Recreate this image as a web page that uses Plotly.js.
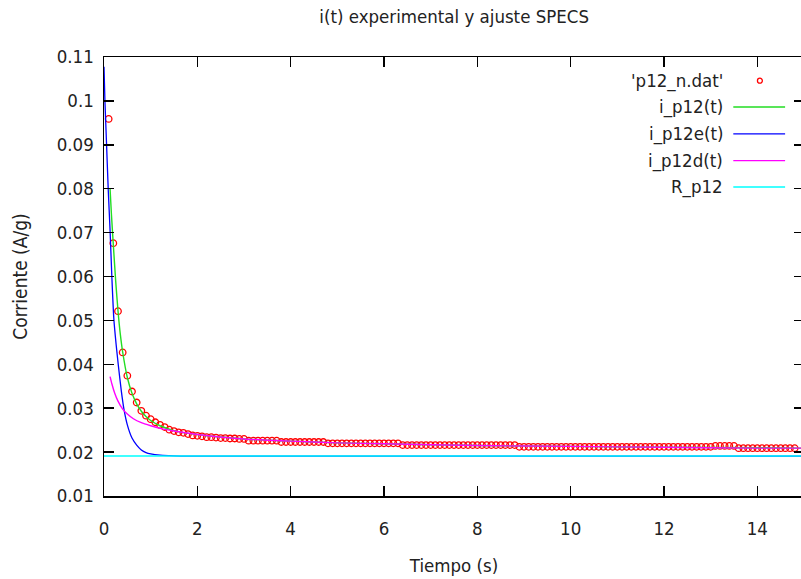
<!DOCTYPE html>
<html>
<head>
<meta charset="utf-8">
<script src="https://cdn.plot.ly/plotly-3.0.1.min.js"></script>
<style>
html, body { margin: 0; padding: 0; overflow: hidden; background: #fff; }
#chart { width: 806px; height: 579px; }
</style>
</head>
<body>
<div id="chart"></div>
<script>
// ---- Experimental data 'p12_n.dat' ----
const tData = [
  0.1, 0.2, 0.3, 0.4, 0.5, 0.6, 0.7, 0.8, 0.9, 1.0,
  1.1, 1.2, 1.3, 1.4, 1.5, 1.6, 1.7, 1.8, 1.9, 2.0,
  2.1, 2.2, 2.3, 2.4, 2.5, 2.6, 2.7, 2.8, 2.9, 3.0,
  3.1, 3.2, 3.3, 3.4, 3.5, 3.6, 3.7, 3.8, 3.9, 4.0,
  4.1, 4.2, 4.3, 4.4, 4.5, 4.6, 4.7, 4.8, 4.9, 5.0,
  5.1, 5.2, 5.3, 5.4, 5.5, 5.6, 5.7, 5.8, 5.9, 6.0,
  6.1, 6.2, 6.3, 6.4, 6.5, 6.6, 6.7, 6.8, 6.9, 7.0,
  7.1, 7.2, 7.3, 7.4, 7.5, 7.6, 7.7, 7.8, 7.9, 8.0,
  8.1, 8.2, 8.3, 8.4, 8.5, 8.6, 8.7, 8.8, 8.9, 9.0,
  9.1, 9.2, 9.3, 9.4, 9.5, 9.6, 9.7, 9.8, 9.9, 10.0,
  10.1, 10.2, 10.3, 10.4, 10.5, 10.6, 10.7, 10.8, 10.9, 11.0,
  11.1, 11.2, 11.3, 11.4, 11.5, 11.6, 11.7, 11.8, 11.9, 12.0,
  12.1, 12.2, 12.3, 12.4, 12.5, 12.6, 12.7, 12.8, 12.9, 13.0,
  13.1, 13.2, 13.3, 13.4, 13.5, 13.6, 13.7, 13.8, 13.9, 14.0,
  14.1, 14.2, 14.3, 14.4, 14.5, 14.6, 14.7, 14.8
];
const iData = [
  0.0959, 0.0676, 0.0521, 0.0427, 0.0374, 0.0338, 0.0313, 0.0294, 0.0283, 0.0275,
  0.0268, 0.0262, 0.0257, 0.0251, 0.0248, 0.0245, 0.0244, 0.0241, 0.0238, 0.0237,
  0.0236, 0.0234, 0.0234, 0.0233, 0.0232, 0.0232, 0.0231, 0.0231, 0.0230, 0.0230,
  0.0226, 0.0226, 0.0226, 0.0226, 0.0226, 0.0226, 0.0226, 0.0223, 0.0223, 0.0223,
  0.0223, 0.0223, 0.0223, 0.0223, 0.0223, 0.0223, 0.0223, 0.0220, 0.0220, 0.0220,
  0.0220, 0.0220, 0.0220, 0.0220, 0.0220, 0.0220, 0.0220, 0.0220, 0.0220, 0.0220,
  0.0220, 0.0220, 0.0220, 0.0216, 0.0216, 0.0216, 0.0216, 0.0216, 0.0216, 0.0216,
  0.0216, 0.0216, 0.0216, 0.0216, 0.0216, 0.0216, 0.0216, 0.0216, 0.0216, 0.0216,
  0.0216, 0.0216, 0.0216, 0.0216, 0.0216, 0.0216, 0.0216, 0.0216, 0.0212, 0.0212,
  0.0212, 0.0212, 0.0212, 0.0212, 0.0212, 0.0212, 0.0212, 0.0212, 0.0212, 0.0212,
  0.0212, 0.0212, 0.0212, 0.0212, 0.0212, 0.0212, 0.0212, 0.0212, 0.0212, 0.0212,
  0.0212, 0.0212, 0.0212, 0.0212, 0.0212, 0.0212, 0.0212, 0.0212, 0.0212, 0.0212,
  0.0212, 0.0212, 0.0212, 0.0212, 0.0212, 0.0212, 0.0212, 0.0212, 0.0212, 0.0212,
  0.0214, 0.0214, 0.0214, 0.0214, 0.0214, 0.0209, 0.0209, 0.0209, 0.0209, 0.0209,
  0.0209, 0.0209, 0.0209, 0.0209, 0.0209, 0.0209, 0.0209, 0.0209
];

// ---- Fit curves ----
const tFit = [0.13, 0.16, 0.2, 0.25, 0.3, 0.35, 0.4, 0.5, 0.6, 0.7, 0.8, 0.9, 1.0, 1.2, 1.5, 2, 3, 4, 5, 6, 8, 10, 12, 14, 15];
const iFitTotal = [0.0800, 0.0740, 0.0672, 0.0590, 0.0522, 0.0468, 0.0428, 0.0370, 0.0334, 0.0310, 0.0293, 0.0281, 0.0272, 0.0260, 0.0249, 0.0240, 0.0230, 0.0225, 0.0221, 0.0219, 0.0215, 0.0213, 0.0211, 0.0210, 0.0209];

const tExp = [0, 0.02, 0.05, 0.09, 0.13, 0.17, 0.21, 0.26, 0.31, 0.37, 0.43, 0.5, 0.6, 0.7, 0.8, 0.9, 1.0, 1.2, 1.4, 1.7, 2.0, 15];
const iFitExp = [0.1078, 0.1000, 0.0915, 0.0800, 0.0705, 0.0595, 0.0505, 0.0445, 0.0395, 0.0340, 0.0296, 0.0262, 0.0232, 0.0216, 0.0205, 0.0199, 0.0196, 0.0193, 0.0192, 0.0191, 0.0191, 0.0191];

const tDif = [0.13, 0.17, 0.23, 0.3, 0.4, 0.5, 0.63, 0.8, 1.0, 1.2, 1.5, 2, 3, 4, 5, 6, 8, 10, 12, 14, 15];
const iFitDif = [0.0372, 0.0355, 0.0334, 0.0316, 0.0298, 0.0287, 0.0276, 0.0267, 0.0260, 0.0254, 0.0248, 0.0240, 0.0230, 0.0225, 0.0221, 0.0219, 0.0215, 0.0213, 0.0211, 0.0209, 0.0209];

const tR = [0, 15];
const iR = [0.0191, 0.0191];

// ---- Labels ----
const seriesNames = ["'p12_n.dat'", "i_p12(t)", "i_p12e(t)", "i_p12d(t)", "R_p12"];
const seriesColors = ["#ff0000", "#22dd22", "#0000ff", "#ff00ff", "#00ffff"];
const xTickVals = [0, 2, 4, 6, 8, 10, 12, 14];
const yTickVals = [0.01, 0.02, 0.03, 0.04, 0.05, 0.06, 0.07, 0.08, 0.09, 0.1, 0.11];
const yTickText = ["0.01", "0.02", "0.03", "0.04", "0.05", "0.06", "0.07", "0.08", "0.09", "0.1", "0.11"];

const FONT = "DejaVu Sans Condensed, DejaVu Sans";
const TXT = "#222";
const FS = 18.5;

const traces = [
  { x: tData, y: iData, mode: "markers", type: "scatter", name: seriesNames[0],
    marker: { symbol: "circle-open", size: 6.5, color: seriesColors[0], line: { width: 1.3, color: seriesColors[0] } } },
  { x: tFit, y: iFitTotal, mode: "lines", type: "scatter", name: seriesNames[1],
    line: { color: seriesColors[1], width: 1.4, shape: "spline", smoothing: 0.6 } },
  { x: tExp, y: iFitExp, mode: "lines", type: "scatter", name: seriesNames[2],
    line: { color: seriesColors[2], width: 1.3, shape: "spline", smoothing: 0.6 } },
  { x: tDif, y: iFitDif, mode: "lines", type: "scatter", name: seriesNames[3],
    line: { color: seriesColors[3], width: 1.4, shape: "spline", smoothing: 0.6 } },
  { x: tR, y: iR, mode: "lines", type: "scatter", name: seriesNames[4],
    line: { color: seriesColors[4], width: 1.4 } }
];

// legend (gnuplot style: text right-aligned, sample to the right)
const legRows = [0.946, 0.886, 0.825, 0.764, 0.704];
const annotations = seriesNames.map((n, k) => ({
  xref: "paper", yref: "paper", x: 0.887, y: legRows[k], xanchor: "right", yanchor: "middle",
  text: n, showarrow: false, font: { family: FONT, size: FS, color: TXT }
}));
const shapes = [];
shapes.push({ type: "circle", xref: "paper", yref: "paper",
  x0: 0.9335, x1: 0.9405, y0: legRows[0] - 0.0057, y1: legRows[0] + 0.0057,
  line: { color: seriesColors[0], width: 1.3 } });
for (let k = 1; k < 5; k++) {
  shapes.push({ type: "line", xref: "paper", yref: "paper",
    x0: 0.899, x1: 0.973, y0: legRows[k], y1: legRows[k],
    line: { color: seriesColors[k], width: 1.4 } });
}

const layout = {
  width: 806, height: 579,
  margin: { l: 104, r: 2, t: 57, b: 83 },
  paper_bgcolor: "#fff", plot_bgcolor: "#fff",
  font: { family: FONT, size: FS, color: TXT },
  showlegend: false,
  title: { text: "i(t) experimental y ajuste SPECS", x: 0.5635, xanchor: "center", y: 0.972, yanchor: "middle",
           font: { family: FONT, size: FS, color: TXT } },
  xaxis: {
    showgrid: false, zeroline: false, showline: true, linecolor: "#000", linewidth: 1.5,
    mirror: "ticks", ticks: "inside", ticklen: 10, tickwidth: 1.5, tickcolor: "#000",
    tickfont: { family: FONT, size: FS, color: TXT },
    ticklabelstandoff: 15,
    range: [0, 15], tickmode: "array", tickvals: xTickVals,
    title: { text: "Tiempo (s)", font: { family: FONT, size: FS, color: TXT }, standoff: 21 }
  },
  yaxis: {
    showgrid: false, zeroline: false, showline: true, linecolor: "#000", linewidth: 1.5,
    mirror: "ticks", ticks: "inside", ticklen: 10, tickwidth: 1.5, tickcolor: "#000",
    tickfont: { family: FONT, size: FS, color: TXT },
    ticklabelstandoff: 5,
    range: [0.01, 0.11], tickmode: "array", tickvals: yTickVals, ticktext: yTickText,
    title: { text: "Corriente (A/g)", font: { family: FONT, size: 19, color: TXT }, standoff: 24 }
  },
  annotations: annotations,
  shapes: shapes
};

Plotly.newPlot("chart", traces, layout, { staticPlot: true, displayModeBar: false });
</script>
</body>
</html>
